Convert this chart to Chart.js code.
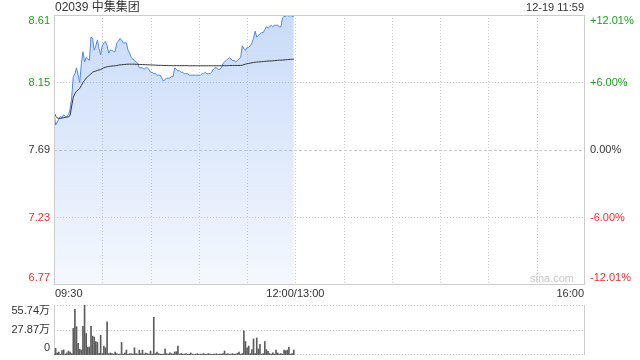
<!DOCTYPE html>
<html>
<head>
<meta charset="utf-8">
<script src="https://cdn.jsdelivr.net/npm/chart.js@4.4.1/dist/chart.umd.min.js"></script>
<style>
html,body{margin:0;padding:0;background:#fff;width:640px;height:360px;overflow:hidden;}
#c1{position:absolute;left:0;top:0;}
#c2{position:absolute;left:0;top:300px;}
</style>
</head>
<body>
<canvas id="c1" width="640" height="300"></canvas>
<canvas id="c2" width="640" height="60"></canvas>
<script>
// ---- data ----
const title = '02039 中集集团';
const stamp = '12-19 11:59';
const prevClose = 7.69;
const priceTicks = [8.61, 8.15, 7.69, 7.23, 6.77];
const pctTicks = ['+12.01%', '+6.00%', '0.00%', '-6.00%', '-12.01%'];
const volTicks = ['55.74万', '27.87万', '0'];
const volTickValues = [55.74, 27.87, 0];
const timeTicks = ['09:30', '12:00/13:00', '16:00'];
const timeTickMinutes = [0, 150, 330];
const totalMinutes = 330;

// price per minute, 09:30 - 11:59
const price = [
  7.95,7.86,7.88,7.90,7.92,7.91,7.93,7.92,7.92,7.93,
  7.97,8.05,8.19,8.21,8.25,8.20,8.15,8.28,8.36,8.29,
  8.32,8.31,8.30,8.46,8.45,8.37,8.40,8.44,8.38,8.34,
  8.40,8.42,8.43,8.40,8.35,8.37,8.37,8.36,8.36,8.42,
  8.43,8.45,8.44,8.42,8.42,8.42,8.37,8.35,8.32,8.31,
  8.30,8.29,8.28,8.25,8.25,8.25,8.24,8.25,8.25,8.24,
  8.22,8.22,8.21,8.21,8.20,8.20,8.20,8.18,8.16,8.17,
  8.18,8.18,8.18,8.19,8.19,8.25,8.24,8.23,8.23,8.22,
  8.22,8.21,8.21,8.21,8.20,8.20,8.20,8.20,8.20,8.20,
  8.20,8.20,8.21,8.21,8.22,8.21,8.21,8.21,8.22,8.24,
  8.25,8.25,8.24,8.24,8.25,8.28,8.29,8.30,8.31,8.32,
  8.31,8.30,8.30,8.29,8.30,8.31,8.32,8.40,8.38,8.37,
  8.39,8.39,8.40,8.42,8.45,8.50,8.46,8.47,8.48,8.49,
  8.49,8.51,8.53,8.52,8.53,8.54,8.53,8.54,8.54,8.54,
  8.53,8.53,8.59,8.60,8.60,8.61,8.60,8.61,8.60,8.60
];

// average price per minute
const avgPrice = [
  7.950,7.920,7.910,7.905,7.905,7.908,7.910,7.912,7.914,7.916,
  7.925,7.990,8.050,8.075,8.090,8.100,8.110,8.130,8.150,8.165,
  8.180,8.190,8.200,8.210,8.220,8.225,8.228,8.232,8.236,8.238,
  8.245,8.250,8.254,8.257,8.259,8.261,8.262,8.263,8.264,8.266,
  8.268,8.270,8.271,8.272,8.273,8.274,8.275,8.275,8.275,8.275,
  8.275,8.274,8.274,8.273,8.273,8.272,8.272,8.271,8.271,8.270,
  8.270,8.269,8.269,8.268,8.268,8.267,8.267,8.267,8.266,8.266,
  8.266,8.265,8.265,8.265,8.264,8.265,8.265,8.265,8.265,8.265,
  8.265,8.265,8.265,8.265,8.264,8.264,8.264,8.264,8.264,8.264,
  8.264,8.264,8.264,8.264,8.264,8.264,8.264,8.264,8.264,8.264,
  8.264,8.264,8.264,8.264,8.264,8.265,8.265,8.265,8.265,8.266,
  8.266,8.266,8.266,8.266,8.266,8.266,8.266,8.268,8.272,8.275,
  8.278,8.280,8.282,8.284,8.286,8.288,8.289,8.290,8.291,8.292,
  8.293,8.294,8.295,8.296,8.297,8.297,8.298,8.299,8.300,8.301,
  8.302,8.302,8.303,8.304,8.305,8.306,8.307,8.308,8.308,8.309
];

// volume per minute (万)
const volume = [
  0.8,7.4,2.3,3.3,0.8,5.0,5.7,1.0,2.3,4.5,
  3.3,1.5,29.7,51.0,31.6,13.0,6.3,5.5,32.0,55.74,
  24.0,8.5,9.0,32.0,21.0,20.0,15.0,14.0,2.0,22.0,
  1.5,10.0,8.0,37.0,1.5,2.3,1.5,1.0,3.3,1.5,
  1.0,1.0,14.0,1.0,2.3,5.6,0.8,1.5,1.5,1.0,
  8.0,1.5,1.0,5.5,1.5,5.5,1.0,2.3,1.5,1.0,
  4.5,1.0,42.0,1.5,3.3,1.5,1.0,1.0,1.0,6.5,
  1.5,1.0,2.3,1.5,1.0,3.3,3.7,10.0,1.0,1.5,
  0.8,1.0,1.5,0.8,1.0,2.3,1.0,0.8,1.0,1.5,
  0.8,1.0,1.0,1.5,0.8,1.0,1.5,1.0,0.8,1.0,
  1.0,1.5,0.8,1.0,1.0,1.5,4.4,1.0,1.5,0.8,
  1.0,1.5,1.0,1.0,2.0,3.3,1.0,1.5,27.0,15.0,
  8.0,10.0,1.5,6.0,18.0,1.5,19.0,6.7,12.0,1.0,
  1.5,15.0,6.0,4.0,1.5,1.0,2.3,1.0,5.5,2.3,
  1.0,1.5,1.0,5.5,4.8,5.5,8.5,1.0,1.5,5.5
];

// ---- styles ----
const FONT = '"Liberation Sans", Arial, "Noto Sans CJK SC", sans-serif';
const GREEN = '#1ea01e';
const RED = '#f02b2b';
const TEXT = '#333333';
const GRID = '#cfcfcf';
const BORDER = '#cccccc';

function hline(ctx, x1, x2, y){ ctx.beginPath(); ctx.moveTo(x1, y); ctx.lineTo(x2, y); ctx.stroke(); }
function vline(ctx, x, y1, y2){ ctx.beginPath(); ctx.moveTo(x, y1); ctx.lineTo(x, y2); ctx.stroke(); }

const priceDecor = {
  id: 'priceDecor',
  beforeDatasetsDraw(chart){
    const {ctx, chartArea: a, scales: {x, y}} = chart;
    ctx.save();
    ctx.lineWidth = 1;
    ctx.strokeStyle = GRID;
    ctx.setLineDash([1, 2]);
    for (let m = 30; m < totalMinutes; m += 30){
      const px = Math.round(x.getPixelForValue(m)) + 0.5;
      vline(ctx, px, a.top, a.bottom);
    }
    priceTicks.forEach((v) => {
      if (v === priceTicks[0] || v === priceTicks[priceTicks.length - 1]) return;
      const py = Math.round(y.getPixelForValue(v)) + 0.5;
      if (v === prevClose) { ctx.setLineDash([3, 2]); } else { ctx.setLineDash([1, 2]); }
      hline(ctx, a.left, a.right, py);
    });
    ctx.restore();
  },
  afterDraw(chart){
    const {ctx, chartArea: a, scales: {x, y}} = chart;
    ctx.save();
    ctx.lineWidth = 1;
    ctx.strokeStyle = BORDER;
    ctx.setLineDash([]);
    ctx.strokeRect(a.left + 0.5, a.top + 0.5, a.right - a.left - 1, a.bottom - a.top - 1);

    ctx.textBaseline = 'middle';
    // title and stamp
    ctx.fillStyle = TEXT;
    ctx.font = '12px ' + FONT;
    ctx.textAlign = 'left';
    ctx.fillText(title, 55, 8);
    ctx.font = '11px ' + FONT;
    ctx.textAlign = 'right';
    ctx.fillText(stamp, a.right - 1, 8);

    // y labels
    priceTicks.forEach((v, i) => {
      let py = y.getPixelForValue(v);
      if (i === 0) py = a.top + 6;
      if (i === priceTicks.length - 1) py = a.bottom - 7;
      const col = v > prevClose ? GREEN : (v < prevClose ? RED : TEXT);
      ctx.fillStyle = col;
      ctx.textAlign = 'right';
      ctx.fillText(v.toFixed(2), a.left - 4, py);
      ctx.textAlign = 'left';
      ctx.fillText(pctTicks[i], a.right + 5, py);
    });

    // watermark
    ctx.fillStyle = '#c8c8c8';
    ctx.textAlign = 'right';
    ctx.fillText('sina.com', a.right - 11, a.bottom - 6);

    // time labels
    ctx.fillStyle = TEXT;
    const ty = a.bottom + 9;
    timeTicks.forEach((t, i) => {
      const px = x.getPixelForValue(timeTickMinutes[i]);
      ctx.textAlign = i === 0 ? 'left' : (i === timeTicks.length - 1 ? 'right' : 'center');
      ctx.fillText(t, i === 0 ? px + 1 : (i === timeTicks.length - 1 ? px - 1 : px), ty);
    });
    ctx.restore();
  }
};

const volDecor = {
  id: 'volDecor',
  beforeDatasetsDraw(chart){
    const {ctx, chartArea: a, scales: {x, y}} = chart;
    ctx.save();
    ctx.lineWidth = 1;
    ctx.strokeStyle = GRID;
    ctx.setLineDash([1, 2]);
    volTickValues.forEach((v) => {
      let py = Math.round(y.getPixelForValue(v)) + 0.5;
      if (v === 0) py -= 1;
      hline(ctx, a.left, a.right, py);
    });
    ctx.setLineDash([]);
    ctx.strokeStyle = BORDER;
    vline(ctx, a.left + 0.5, a.top, a.bottom);
    vline(ctx, a.right - 0.5, a.top, a.bottom);
    ctx.restore();
  },
  afterDraw(chart){
    const {ctx, chartArea: a, scales: {y}} = chart;
    ctx.save();
    ctx.font = '11px ' + FONT;
    ctx.fillStyle = TEXT;
    ctx.textBaseline = 'middle';
    ctx.textAlign = 'right';
    volTickValues.forEach((v, i) => {
      let py = y.getPixelForValue(v);
      if (i === 0) py = a.top + 6;
      if (i === volTickValues.length - 1) py = a.bottom - 7;
      ctx.fillText(volTicks[i], a.left - 4, py);
    });
    ctx.restore();
  }
};

const pricePts = price.map((v, i) => ({x: i, y: v}));
const avgPts = avgPrice.map((v, i) => ({x: i, y: v}));
const volPts = volume.map((v, i) => ({x: i, y: v}));

new Chart(document.getElementById('c1'), {
  type: 'line',
  data: {
    datasets: [
      {
        data: avgPts,
        borderColor: '#333333',
        borderWidth: 1,
        pointRadius: 0,
        fill: false,
        tension: 0,
        order: 0
      },
      {
        data: pricePts,
        borderColor: '#4d88ea',
        borderWidth: 1,
        pointRadius: 0,
        tension: 0,
        fill: 'start',
        order: 1,
        backgroundColor(ctx){
          const ch = ctx.chart; const a = ch.chartArea;
          if (!a) return 'rgba(77,136,234,0.2)';
          const g = ch.ctx.createLinearGradient(0, a.top, 0, a.bottom);
          g.addColorStop(0, 'rgba(77,136,234,0.30)');
          g.addColorStop(1, 'rgba(77,136,234,0.06)');
          return g;
        }
      }
    ]
  },
  options: {
    responsive: false,
    devicePixelRatio: 1,
    animation: false,
    events: [],
    layout: {padding: {left: 54, right: 55, top: 15, bottom: 15}},
    plugins: {legend: {display: false}, tooltip: {enabled: false}},
    scales: {
      x: {type: 'linear', min: 0, max: totalMinutes, display: false},
      y: {type: 'linear', min: priceTicks[priceTicks.length - 1], max: priceTicks[0], display: false}
    }
  },
  plugins: [priceDecor]
});

new Chart(document.getElementById('c2'), {
  type: 'bar',
  data: {
    datasets: [{
      data: volPts,
      backgroundColor: '#5c5c5c',
      barThickness: 1,
      borderWidth: 0
    }]
  },
  options: {
    responsive: false,
    devicePixelRatio: 1,
    animation: false,
    events: [],
    layout: {padding: {left: 54, right: 55, top: 5, bottom: 5}},
    plugins: {legend: {display: false}, tooltip: {enabled: false}},
    scales: {
      x: {type: 'linear', min: 0, max: totalMinutes, offset: false, display: false},
      y: {type: 'linear', min: 0, max: volTickValues[0], display: false}
    }
  },
  plugins: [volDecor]
});
</script>
</body>
</html>
